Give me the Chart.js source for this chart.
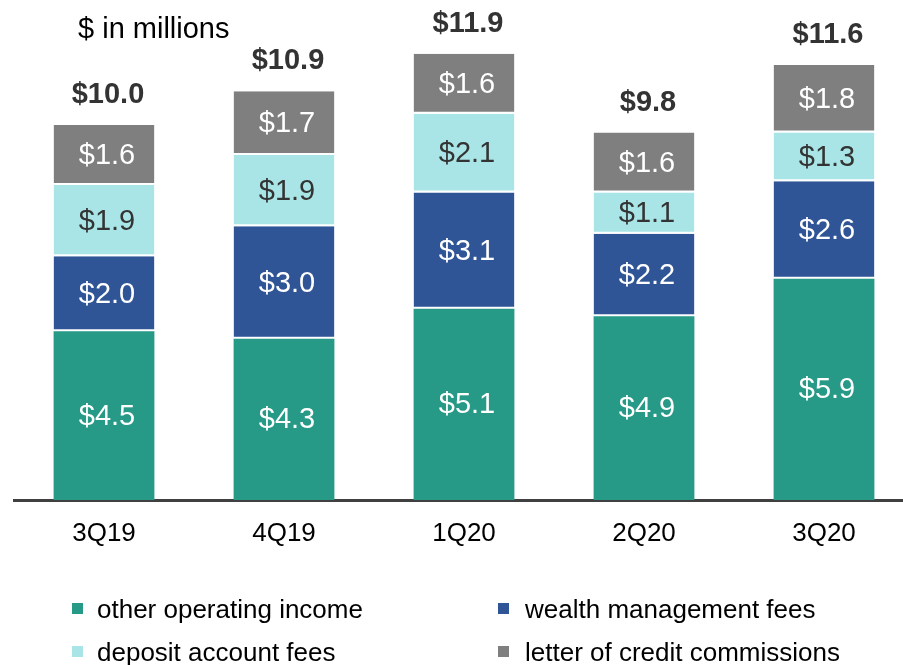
<!DOCTYPE html>
<html>
<head>
<meta charset="utf-8">
<script src="https://cdn.jsdelivr.net/npm/chart.js@4"></script>
<style>
  html, body { margin: 0; padding: 0; overflow: hidden; background: #fff; }
  #wrap { position: relative; width: 903px; height: 665px; overflow: hidden; }
  canvas { position: absolute; left: 0; top: 0; }
  .legend { position: absolute; font-family: "Liberation Sans", Arial, sans-serif; font-size: 26px; color: #000; white-space: nowrap; }
  .legend span.box { position: absolute; width: 11px; height: 11px; }
</style>
</head>
<body>
<div id="wrap">
  <canvas id="chart" width="920" height="665"></canvas>
  <div id="legend"></div>
</div>
<script>
// quarters on the x axis
const quarters = ['3Q19', '4Q19', '1Q20', '2Q20', '3Q20'];

// stacked series, bottom to top ($ in millions)
const otherOperating = [4.5, 4.3, 5.1, 4.9, 5.9];
const wealthMgmt     = [2.0, 3.0, 3.1, 2.2, 2.6];
const depositFees    = [1.9, 1.9, 2.1, 1.1, 1.3];
const letterOfCredit = [1.6, 1.7, 1.6, 1.6, 1.8];

// totals shown above each bar
const totals = [10.0, 10.9, 11.9, 9.8, 11.6];

const seriesNames  = ['other operating income', 'wealth management fees', 'deposit account fees', 'letter of credit commissions'];
const seriesColors = ['#269987', '#2F5597', '#A9E5E6', '#7F7F7F'];
const labelColors  = ['#ffffff', '#ffffff', '#333333', '#ffffff'];

const FONT = '"Liberation Sans", Arial, sans-serif';

// draws the value in every segment, the totals and the units note
const labelPlugin = {
  id: 'segmentLabels',
  afterDatasetsDraw(chart) {
    const ctx = chart.ctx;
    ctx.save();
    ctx.textAlign = 'center';
    ctx.textBaseline = 'middle';
    ctx.font = '29px ' + FONT;
    chart.data.datasets.forEach((ds, di) => {
      const meta = chart.getDatasetMeta(di);
      meta.data.forEach((bar, i) => {
        ctx.fillStyle = labelColors[di];
        ctx.fillText('$' + ds.data[i].toFixed(1), bar.x + 3, (bar.y + bar.base) / 2 + 1);
      });
    });
    // totals
    const top = chart.getDatasetMeta(chart.data.datasets.length - 1);
    ctx.font = 'bold 29px ' + FONT;
    ctx.fillStyle = '#333333';
    top.data.forEach((bar, i) => {
      ctx.fillText('$' + totals[i].toFixed(1), bar.x + 4, bar.y - 30);
    });
    // units note
    ctx.font = '29px ' + FONT;
    ctx.fillStyle = '#000';
    ctx.textAlign = 'left';
    ctx.fillText('$ in millions', 78, 30);
    ctx.restore();
  }
};

const seriesData = [otherOperating, wealthMgmt, depositFees, letterOfCredit];

const datasets = seriesData.map((vals, i) => ({
  label: seriesNames[i],
  data: vals,
  backgroundColor: seriesColors[i],
  borderColor: '#ffffff',
  borderWidth: i === 0 ? 0 : { top: 0, left: 0, right: 0, bottom: 2 },
  borderSkipped: false,
  barPercentage: 0.56,
  categoryPercentage: 1.0
}));

new Chart(document.getElementById('chart'), {
  type: 'bar',
  data: { labels: quarters, datasets: datasets },
  options: {
    responsive: false,
    animation: false,
    layout: { padding: { top: 20, left: 14, right: 6, bottom: 0 } },
    plugins: {
      legend: { display: false },
      tooltip: { enabled: false }
    },
    scales: {
      x: {
        stacked: true,
        grid: { display: false },
        border: { display: true, color: '#404040', width: 3 },
        ticks: {
          color: '#000',
          padding: 10,
          font: { family: FONT, size: 26 }
        },
        afterFit(scale) { scale.height = 165; }
      },
      y: {
        stacked: true,
        display: false,
        min: 0,
        max: 12.8
      }
    }
  },
  plugins: [labelPlugin]
});

// legend in two columns, built from the series arrays
const legendPos = [[72, 609], [498, 609], [72, 652], [498, 652]];
const legendEl = document.getElementById('legend');
seriesNames.forEach((name, k) => {
  const [lx, ly] = legendPos[k];
  const item = document.createElement('div');
  item.className = 'legend';
  item.style.left = lx + 'px';
  item.style.top = (ly - 15) + 'px';
  item.style.lineHeight = '30px';
  const box = document.createElement('span');
  box.className = 'box';
  box.style.background = seriesColors[k];
  box.style.left = '0px';
  box.style.top = '9px';
  const txt = document.createElement('span');
  txt.style.marginLeft = (k % 2 === 0 ? 25 : 27) + 'px';
  txt.textContent = name;
  item.appendChild(box);
  item.appendChild(txt);
  legendEl.appendChild(item);
});
</script>
</body>
</html>
